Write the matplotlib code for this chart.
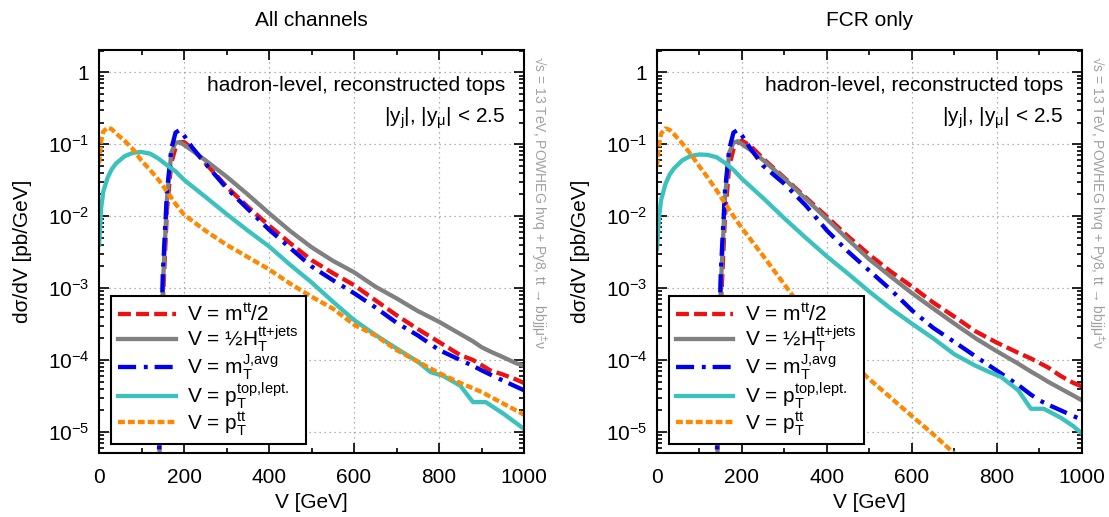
import math
import matplotlib
matplotlib.use("Agg")
import matplotlib.pyplot as plt
from matplotlib.ticker import MultipleLocator, LogLocator, FuncFormatter, NullFormatter

plt.rcParams["font.family"] = ["Liberation Sans", "DejaVu Sans"]
plt.rcParams["mathtext.fontset"] = "custom"
plt.rcParams["mathtext.rm"] = "Liberation Sans"
plt.rcParams["mathtext.it"] = "Liberation Sans:italic"
plt.rcParams["mathtext.bf"] = "Liberation Sans:bold"

# ---- binning -------------------------------------------------------------
x_mass = [140, 150, 160, 170, 180, 190, 200, 220, 250, 300, 350, 400, 450, 500,
          550, 600, 650, 700, 750, 800, 850, 880, 900, 920, 950, 980, 1000]
x_ptop = [0, 5, 10, 20, 30, 40, 60, 80, 100, 120, 140, 160, 180, 200, 250, 300,
          350, 400, 450, 500, 550, 600, 650, 700, 750, 780, 810, 850, 880, 910,
          950, 980, 1000]
x_ptt_all = [0, 5, 10, 20, 30, 40, 60, 80, 100, 120, 140, 160, 180, 200, 250,
             300, 350, 400, 450, 500, 550, 600, 650, 700, 750, 800, 850, 900,
             950, 1000]
x_ptt_fcr = [0, 5, 10, 20, 30, 40, 60, 80, 100, 120, 140, 160, 180, 200, 250,
             300, 350, 400, 450, 500, 550, 600, 650, 700]

# ---- all channels [pb/GeV] -----------------------------------------------
all_mtt = [1e-6, 6.3e-4, 1.26e-2, 5.5e-2, 8.9e-2, 1.07e-1, 1.07e-1, 8.7e-2, 5.5e-2,
           2.57e-2, 1.35e-2, 7.4e-3, 4.2e-3, 2.45e-3, 1.62e-3, 1.10e-3, 6.8e-4,
           4.2e-4, 2.7e-4, 1.78e-4, 1.17e-4, 1.0e-4, 8.5e-5, 7.2e-5, 6.3e-5,
           5.4e-5, 4.8e-5]
all_ht = [1e-6, 1.0e-3, 1.78e-2, 7.6e-2, 1.05e-1, 1.07e-1, 9.8e-2, 8.1e-2, 6.0e-2,
          3.55e-2, 2.0e-2, 1.10e-2, 6.2e-3, 3.7e-3, 2.4e-3, 1.66e-3, 1.05e-3,
          7.2e-4, 4.8e-4, 3.4e-4, 2.3e-4, 1.82e-4, 1.51e-4, 1.32e-4, 1.10e-4,
          9.1e-5, 8.3e-5]
all_mtj = [2.5e-6, 1.58e-3, 2.24e-2, 8.5e-2, 1.45e-1, 1.58e-1, 1.32e-1, 8.9e-2,
           5.4e-2, 2.45e-2, 1.26e-2, 6.5e-3, 3.6e-3, 2.0e-3, 1.29e-3, 8.5e-4,
           5.4e-4, 3.3e-4, 2.2e-4, 1.38e-4, 1.0e-4, 8.3e-5, 7.2e-5, 6.3e-5,
           5.2e-5, 4.3e-5, 3.8e-5]
all_ptop = [4.0e-3, 1.3e-2, 2.2e-2, 3.4e-2, 4.5e-2, 5.4e-2, 6.8e-2, 7.6e-2, 7.8e-2,
            7.4e-2, 6.3e-2, 5.1e-2, 4.2e-2, 3.2e-2, 1.86e-2, 1.07e-2, 6.3e-3,
            3.8e-3, 2.1e-3, 1.2e-3, 6.5e-4, 3.6e-4, 2.24e-4, 1.45e-4, 9.5e-5,
            6.8e-5, 6.0e-5, 4.4e-5, 2.6e-5, 2.6e-5, 1.82e-5, 1.35e-5, 1.1e-5]
all_ptt = [5.4e-2, 1.1e-1, 1.5e-1, 1.7e-1, 1.62e-1, 1.41e-1, 1.12e-1, 8.5e-2, 5.9e-2,
           4.4e-2, 3.2e-2, 2.2e-2, 1.48e-2, 1.05e-2, 6.3e-3, 4.0e-3, 2.7e-3,
           1.82e-3, 1.15e-3, 7.6e-4, 5.2e-4, 3.1e-4, 2.2e-4, 1.38e-4, 9.5e-5,
           6.6e-5, 4.8e-5, 3.6e-5, 2.5e-5, 1.74e-5]

# ---- FCR only [pb/GeV] ---------------------------------------------------
fcr_mtt = [1e-6, 5.0e-4, 1.0e-2, 5.0e-2, 8.5e-2, 1.05e-1, 1.12e-1, 9.5e-2, 6.3e-2,
           3.4e-2, 1.82e-2, 9.8e-3, 5.2e-3, 2.9e-3, 1.7e-3, 1.05e-3, 6.3e-4,
           4.0e-4, 2.5e-4, 1.74e-4, 1.26e-4, 1.05e-4, 9.1e-5, 7.9e-5, 6.0e-5,
           4.8e-5, 4.3e-5]
fcr_ht = [1e-6, 1.0e-3, 1.78e-2, 7.6e-2, 1.05e-1, 1.10e-1, 1.0e-1, 8.3e-2, 6.0e-2,
          3.3e-2, 1.74e-2, 9.1e-3, 4.7e-3, 2.5e-3, 1.45e-3, 8.5e-4, 5.2e-4,
          3.2e-4, 2.0e-4, 1.32e-4, 8.9e-5, 6.9e-5, 5.9e-5, 5.0e-5, 4.0e-5,
          3.2e-5, 2.75e-5]
fcr_mtj = [2.5e-6, 1.58e-3, 2.24e-2, 8.5e-2, 1.45e-1, 1.58e-1, 1.32e-1, 8.7e-2,
           5.0e-2, 2.8e-2, 1.41e-2, 6.3e-3, 3.2e-3, 1.74e-3, 9.5e-4, 4.9e-4,
           2.8e-4, 1.78e-4, 1.12e-4, 7.1e-5, 4.5e-5, 3.3e-5, 2.75e-5, 2.4e-5,
           2.0e-5, 1.66e-5, 1.48e-5]
fcr_ptop = [3.5e-3, 1.0e-2, 1.7e-2, 2.8e-2, 3.8e-2, 4.6e-2, 6.0e-2, 6.9e-2, 7.2e-2,
            7.1e-2, 6.6e-2, 5.5e-2, 4.4e-2, 3.3e-2, 1.78e-2, 9.3e-3, 5.0e-3,
            2.75e-3, 1.58e-3, 8.9e-4, 5.2e-4, 3.2e-4, 2.0e-4, 1.2e-4, 8.3e-5,
            6.9e-5, 5.8e-5, 3.8e-5, 2.1e-5, 2.1e-5, 1.58e-5, 1.2e-5, 9.5e-6]
fcr_ptt = [4.9e-2, 1.0e-1, 1.41e-1, 1.66e-1, 1.58e-1, 1.38e-1, 1.02e-1, 7.2e-2,
           4.9e-2, 3.4e-2, 2.3e-2, 1.51e-2, 1.0e-2, 6.8e-3, 2.8e-3, 1.12e-3,
           4.5e-4, 1.9e-4, 1.0e-4, 5.4e-5, 3.0e-5, 1.66e-5, 9.3e-6, 5.0e-6]

labels = [
    r"V = m$^{\mathrm{tt}}$/2",
    r"V = ½H$_{\mathrm{T}}^{\mathrm{tt{+}jets}}$",
    r"V = m$_{\mathrm{T}}^{\mathrm{J{,}avg}}$",
    r"V = p$_{\mathrm{T}}^{\mathrm{top{,}lept.}}$",
    r"V = p$_{\mathrm{T}}^{\mathrm{tt}}$",
]
colors = ["#ee1111", "#808080", "#0000ee", "#3cc2be", "#ff8800"]
styles = [(0, (3.0, 1.2)), "-", (0, (4.2, 1.8, 0.9, 1.6)), "-", (0, (1.6, 0.7))]

note = "√s = 13 TeV, POWHEG hvq + Py8, tt → bbjjμ$^{\\pm}$ν"
FS = 15


def ytick_fmt(v, pos):
    if abs(v - 1) < 1e-9:
        return "1"
    return r"$10^{%d}$" % round(math.log10(v))


def draw_panel(ax, title, xs, ys):
    for x, y, lab, c, ls in zip(xs, ys, labels, colors, styles):
        ax.plot(x, y, color=c, ls=ls, lw=3.1, label=lab)
    ax.set_yscale("log")
    ax.set_xlim(0, 1000)
    ax.set_ylim(5.1e-6, 2.04)
    ax.xaxis.set_major_locator(MultipleLocator(200))
    ax.xaxis.set_minor_locator(MultipleLocator(100))
    ax.yaxis.set_major_locator(LogLocator(base=10, numticks=10))
    ax.yaxis.set_minor_locator(LogLocator(base=10, subs=range(2, 10), numticks=20))
    ax.yaxis.set_major_formatter(FuncFormatter(ytick_fmt))
    ax.yaxis.set_minor_formatter(NullFormatter())
    ax.tick_params(which="both", direction="in", top=True, right=True,
                   labelsize=FS, width=1.2)
    ax.tick_params(which="major", length=7, pad=7)
    ax.tick_params(axis="x", which="major", pad=11)
    ax.tick_params(which="minor", length=3.5)
    for s in ax.spines.values():
        s.set_linewidth(1.5)
    ax.grid(True, which="major", ls=(0, (1, 3)), color="#999999", lw=0.9)
    ax.set_title(title, fontsize=FS, pad=17)
    ax.set_xlabel("V [GeV]", fontsize=FS, labelpad=4)
    ax.set_ylabel("dσ/dV [pb/GeV]", fontsize=FS, labelpad=11)
    ax.text(0.955, 0.913, "hadron-level, reconstructed tops", transform=ax.transAxes,
            ha="right", va="center", fontsize=FS)
    ax.text(0.955, 0.831, r"|y$_{\mathrm{j}}$|, |y$_{\mathrm{μ}}$| < 2.5",
            transform=ax.transAxes, ha="right", va="center", fontsize=FS)
    ax.text(1.033, 0.985, note, transform=ax.transAxes, rotation=-90,
            ha="center", va="top", fontsize=10, color="#a0a0a0")
    leg = ax.legend(loc="lower left", bbox_to_anchor=(0.028, 0.022),
                    borderaxespad=0, fontsize=FS, handlelength=2.75,
                    handletextpad=0.55, labelspacing=-0.07, borderpad=0.35,
                    fancybox=False, framealpha=1, edgecolor="black")
    leg.get_frame().set_linewidth(1.5)


fig = plt.figure(figsize=(11.09, 5.17), dpi=100)
ax1 = fig.add_axes([0.0893, 0.1238, 0.3832, 0.7795])
ax2 = fig.add_axes([0.5924, 0.1238, 0.3832, 0.7795])

draw_panel(ax1, "All channels",
           [x_mass, x_mass, x_mass, x_ptop, x_ptt_all],
           [all_mtt, all_ht, all_mtj, all_ptop, all_ptt])
draw_panel(ax2, "FCR only",
           [x_mass, x_mass, x_mass, x_ptop, x_ptt_fcr],
           [fcr_mtt, fcr_ht, fcr_mtj, fcr_ptop, fcr_ptt])

fig.savefig("out.png", dpi=100)
